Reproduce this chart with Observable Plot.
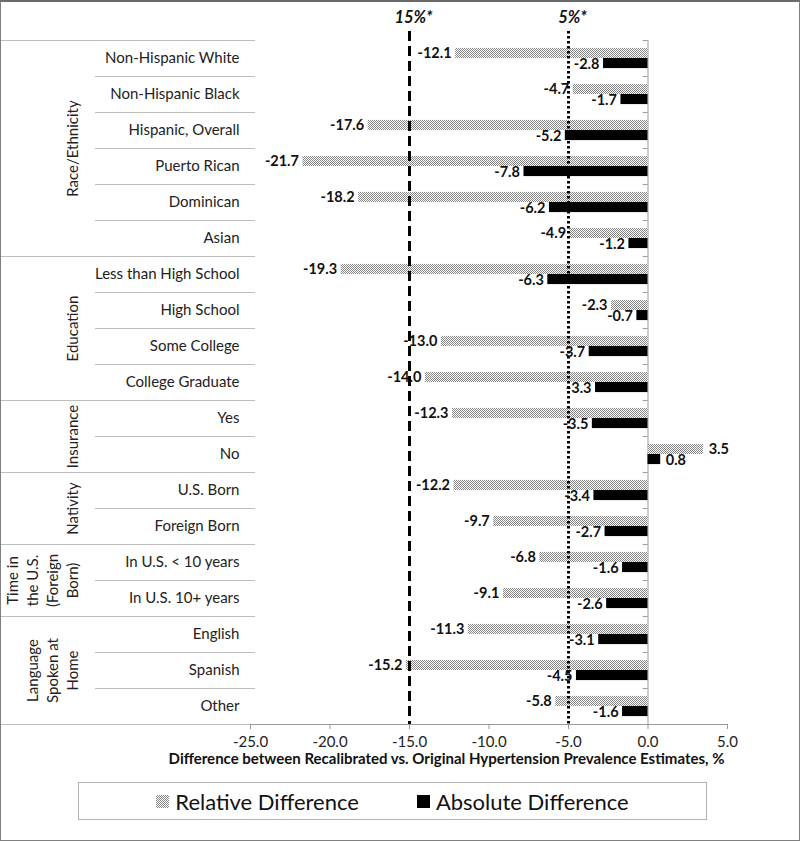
<!DOCTYPE html>
<html><head><meta charset="utf-8">
<script src="https://cdn.jsdelivr.net/npm/d3@7"></script>
<script src="https://cdn.jsdelivr.net/npm/@observablehq/plot@0.6"></script>
<style>
body{margin:0;background:#fff;font-family:Lato,sans-serif;}
#wrap{position:relative;width:800px;height:841px;overflow:hidden;background:#fff}
#chart svg{display:block}
#frame{position:absolute;left:0;top:0;width:800px;height:841px;box-sizing:border-box;border:1px solid #808080;border-top:2px solid #6a6a6a;pointer-events:none}
#legend{position:absolute;left:78px;top:782px;width:629px;height:38px;box-sizing:border-box;border:1px solid #b0b0b0;display:flex;align-items:center;justify-content:center;gap:58px;font-size:22px;color:#111;font-family:Lato,sans-serif}
#legend .item{display:flex;align-items:center;gap:6px}
#legend .sw{width:13px;height:13px;display:inline-block}
#legend .sw.rel{background:repeating-conic-gradient(#858585 0 25%,#ffffff 0 50%) 0 0/2px 2px}
#legend .sw.abs{background:#000}
[aria-label^="x-axis"] line,[aria-label="x-axis tick"] path{stroke:#9a9a9a}
</style>
</head><body>
<div id="wrap"><div id="chart"></div><div id="legend"></div><div id="frame"></div></div>
<script>
const categories = ["Non-Hispanic White","Non-Hispanic Black","Hispanic, Overall","Puerto Rican","Dominican","Asian",
  "Less than High School","High School","Some College","College Graduate",
  "Yes","No","U.S. Born","Foreign Born","In U.S. < 10 years","In U.S. 10+ years","English","Spanish","Other"];
const groupNames = ["Race/Ethnicity","Education","Insurance","Nativity","Time in\nthe U.S.\n(Foreign\nBorn)","Language\nSpoken at\nHome"];
const groupSizes = [6,4,2,2,2,3];
const relativeDiff = [-12.1,-4.7,-17.6,-21.7,-18.2,-4.9,-19.3,-2.3,-13.0,-14.0,-12.3,3.5,-12.2,-9.7,-6.8,-9.1,-11.3,-15.2,-5.8];
const absoluteDiff = [-2.8,-1.7,-5.2,-7.8,-6.2,-1.2,-6.3,-0.7,-3.7,-3.3,-3.5,0.8,-3.4,-2.7,-1.6,-2.6,-3.1,-4.5,-1.6];
const seriesNames = ["Relative Difference","Absolute Difference"];
const xTicks = [-25,-20,-15,-10,-5,0,5];
const thresholdValues = [-15,-5];
const thresholdLabels = ["15%*","5%*"];
const axisTitle = "Difference between Recalibrated vs. Original Hypertension Prevalence Estimates, %";

const rows = categories.map((c,i)=>({c,i,rel:relativeDiff[i],abs:absoluteDiff[i]}));
let acc = 0;
const groups = groupNames.map((g,k)=>{const s=acc; acc+=groupSizes[k]; return {g,s,e:acc,mid:(s+acc)/2};});
const groupBounds = [0, ...groups.map(g=>g.e)];
const innerBounds = d3.range(1,categories.length).filter(b=>!groupBounds.includes(b));
const n = categories.length;

const relNeg = rows.filter(d=>d.rel<0), relPos = rows.filter(d=>d.rel>=0);
const absNeg = rows.filter(d=>d.abs<0), absPos = rows.filter(d=>d.abs>=0);
const lbl = {fontWeight:"bold", fontSize:14.5, fill:"#111"};

const svg = Plot.plot({
  width: 800, height: 778,
  marginLeft: 250, marginRight: 73, marginTop: 40, marginBottom: 54,
  style: {fontFamily:"Lato, sans-serif", fontSize:"15px", color:"#222", background:"transparent", overflow:"visible"},
  x: {domain:[-25,5], ticks: xTicks, tickFormat: d=>d.toFixed(1), tickSize:5, tickPadding:7, label:null},
  y: {domain:[0,n], reverse:true, axis:null},
  marks: [
    Plot.ruleY(innerBounds, {y:d=>d, stroke:"#bdbdbd", insetLeft:-155, insetRight:472}),
    Plot.ruleY(groupBounds, {y:d=>d, stroke:"#bdbdbd", insetLeft:-250, insetRight:472}),
    Plot.ruleY([n], {y:d=>d, stroke:"#9a9a9a"}),
    Plot.ruleX([0], {x:d=>d, y1:0, y2:n, stroke:"#9a9a9a"}),
    Plot.ruleY(d3.range(0,n+1), {y:d=>d, x1:-0.3, x2:0, stroke:"#9a9a9a"}),
    Plot.rect(rows, {x1:0, x2:"rel", y1:d=>d.i+0.22, y2:d=>d.i+0.5, fill:"url(#hatch)"}),
    Plot.rect(rows, {x1:0, x2:"abs", y1:d=>d.i+0.5, y2:d=>d.i+0.78, fill:"#000"}),
    Plot.ruleX([thresholdValues[0]], {x:d=>d, y1:-0.25, y2:n, stroke:"#000", strokeWidth:3, strokeDasharray:"10,5"}),
    Plot.ruleX([thresholdValues[1]], {x:d=>d, y1:-0.25, y2:n, stroke:"#000", strokeWidth:3, strokeDasharray:"2.5,2.5"}),
    Plot.text(thresholdValues, {x:d=>d, y:-0.64, text:(d,i)=>thresholdLabels[i], fontWeight:"bold", fontStyle:"italic", fontSize:16.5, dx:4, fill:"#111"}),
    Plot.text(relNeg, {x:"rel", y:d=>d.i+0.36, text:d=>d.rel.toFixed(1), textAnchor:"end", dx:-4, ...lbl}),
    Plot.text(relPos, {x:"rel", y:d=>d.i+0.36, text:d=>d.rel.toFixed(1), textAnchor:"start", dx:5, ...lbl}),
    Plot.text(absNeg, {x:"abs", y:d=>d.i+0.65, text:d=>d.abs.toFixed(1), textAnchor:"end", dx:-4, ...lbl}),
    Plot.text(absPos, {x:"abs", y:d=>d.i+0.65, text:d=>d.abs.toFixed(1), textAnchor:"start", dx:5, ...lbl}),
    Plot.text(rows, {y:d=>d.i+0.5, text:"c", frameAnchor:"left", textAnchor:"end", dx:-11, fontSize:15, fill:"#222"}),
    Plot.text(groups, {y:"mid", text:"g", frameAnchor:"left", dx:-173, rotate:-90, textAnchor:"middle", lineAnchor:"bottom", lineHeight:1.33, fontSize:15, fill:"#222"}),
    Plot.text([axisTitle], {frameAnchor:"bottom-right", textAnchor:"end", dy:39, dx:-3, fontWeight:"bold", fontSize:15, fill:"#111"})
  ]
});
const svgEl = svg.tagName.toLowerCase()==="svg" ? svg : svg.querySelector("svg");
d3.select(svgEl).insert("defs", ":first-child").html(
  '<pattern id="hatch" patternUnits="userSpaceOnUse" width="2" height="2"><rect width="2" height="2" fill="#ffffff"/><rect x="0" y="0" width="1" height="1" fill="#858585"/><rect x="1" y="1" width="1" height="1" fill="#858585"/></pattern>');
document.getElementById("chart").appendChild(svg);

const legend = d3.select("#legend");
seriesNames.forEach((s,k)=>{
  const it = legend.append("div").attr("class","item");
  it.append("span").attr("class","sw "+(k===0?"rel":"abs"));
  it.append("span").text(s);
});
</script>
</body></html>
